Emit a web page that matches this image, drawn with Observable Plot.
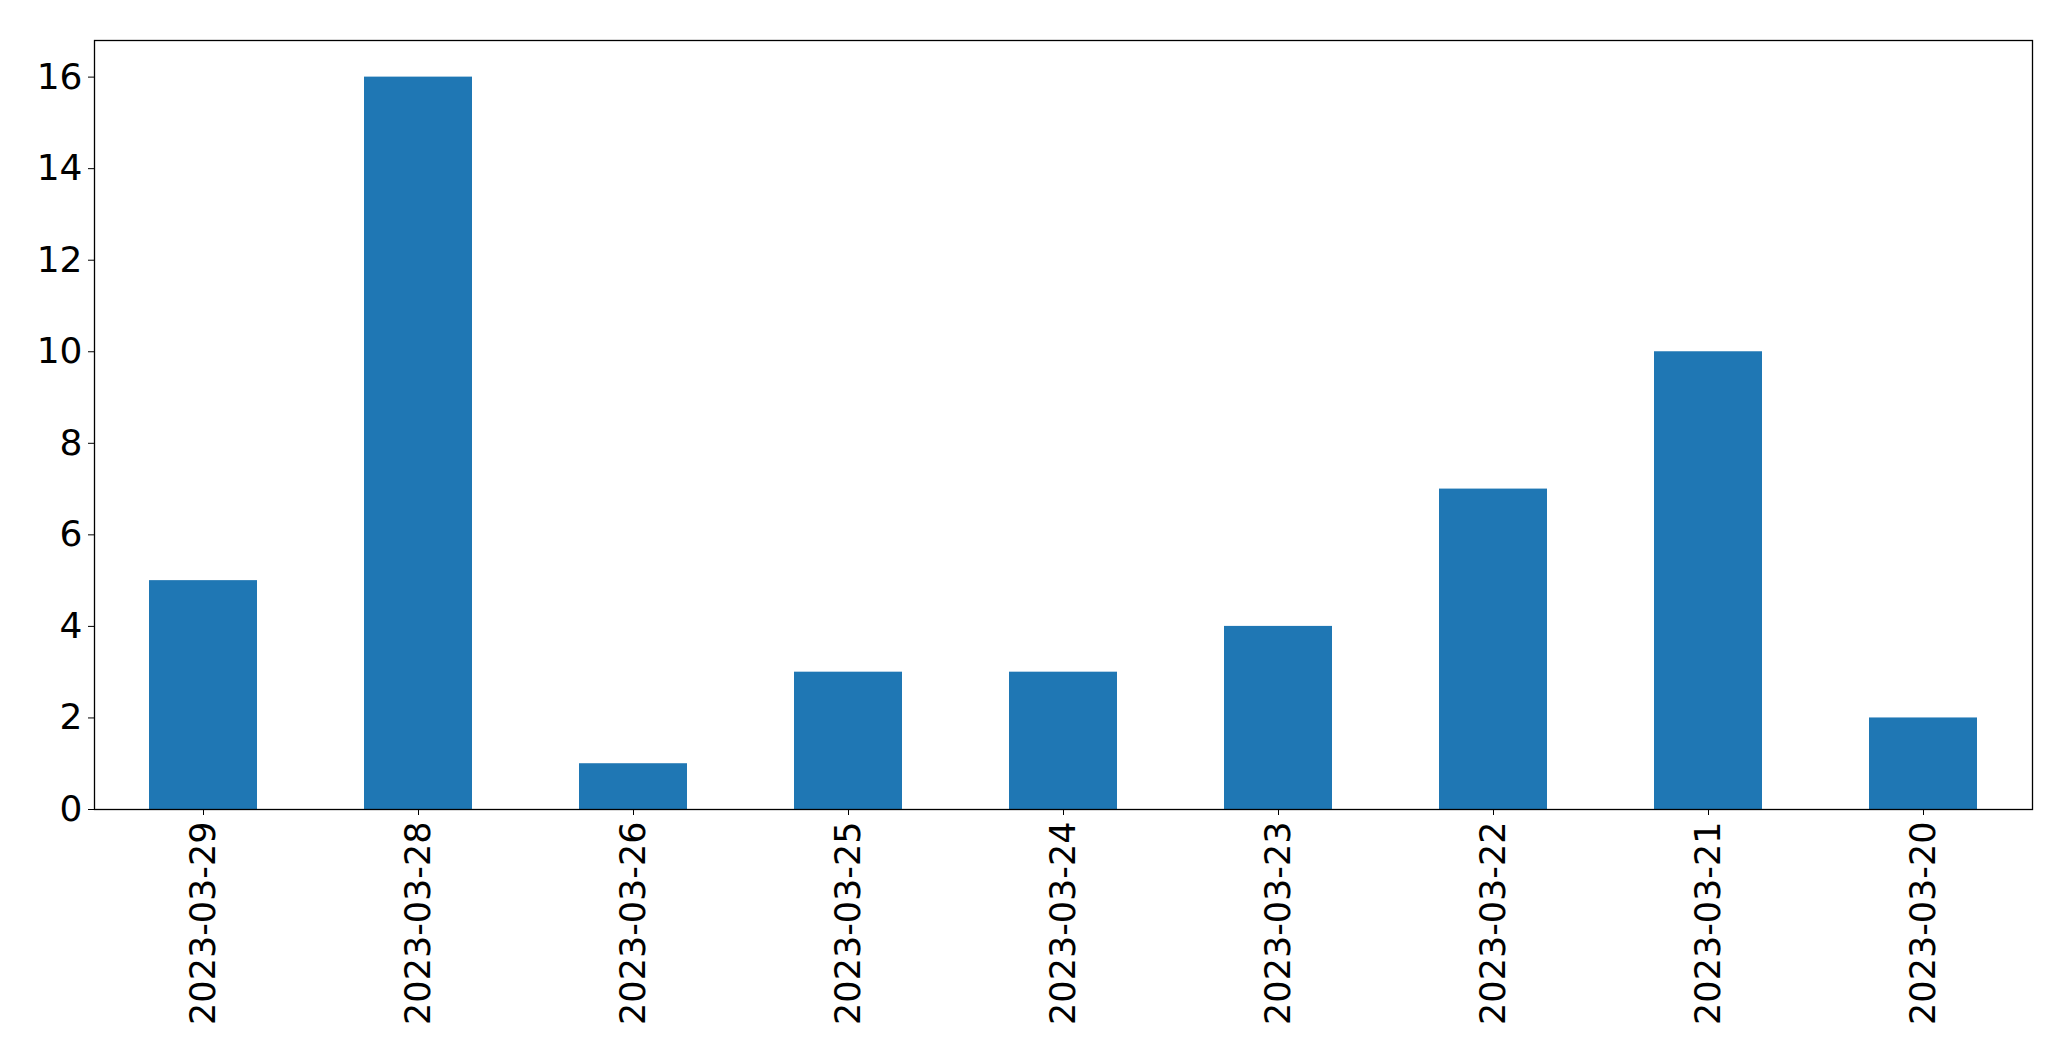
<!DOCTYPE html>
<html>
<head>
<meta charset="utf-8">
<script src="https://cdn.jsdelivr.net/npm/d3@7"></script>
<script src="https://cdn.jsdelivr.net/npm/@observablehq/plot@0.6"></script>
<style>
  html, body { margin: 0; padding: 0; background: #fff; overflow: hidden; }
  #chart { width: 2071px; height: 1061px; overflow: hidden; }
  #chart svg { display: block; }
</style>
</head>
<body>
<div id="chart"></div>
<script>
const dates = ["2023-03-29", "2023-03-28", "2023-03-26", "2023-03-25", "2023-03-24", "2023-03-23", "2023-03-22", "2023-03-21", "2023-03-20"];
const counts = [5, 16, 1, 3, 3, 4, 7, 10, 2];
const yTicks = [0, 2, 4, 6, 8, 10, 12, 14, 16];

const data = dates.map((d, i) => ({date: d, count: counts[i]}));

const chart = Plot.plot({
  width: 2071,
  height: 1061,
  marginLeft: 94,
  marginRight: 39,
  marginTop: 40,
  marginBottom: 252,
  style: {fontFamily: "DejaVu Sans", background: "#fff"},
  x: {domain: dates, padding: 0.5, paddingOuter: 0.25, label: null},
  y: {domain: [0, 16.8], label: null},
  marks: [
    Plot.barY(data, {x: "date", y: "count", fill: "#1f77b4"}),
    Plot.axisY({ticks: yTicks, tickSize: 6, tickPadding: 6, fontSize: 36, tickFormat: d => String(d), label: null, stroke: "#000", color: "#000"}),
    Plot.axisX({tickSize: 6, tickPadding: 6, fontSize: 35, tickRotate: -90, label: null, color: "#000"}),
    Plot.frame({stroke: "#000", strokeWidth: 1.3})
  ]
});
document.getElementById("chart").appendChild(chart);
</script>
</body>
</html>
